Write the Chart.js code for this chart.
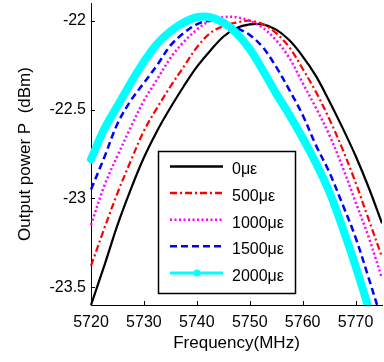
<!DOCTYPE html>
<html>
<head>
<meta charset="utf-8">
<script src="https://cdn.jsdelivr.net/npm/chart.js@4.4.0/dist/chart.umd.min.js"></script>
<style>
  html, body { margin: 0; padding: 0; background: #fff; }
</style>
</head>
<body>
<canvas id="myChart" width="384" height="362"></canvas>
<script>
// Datos
const freqs = [5720, 5722.5, 5725, 5727.5, 5730, 5732.5, 5735, 5737.5, 5740, 5742.5, 5745, 5747.5,
  5750, 5752.5, 5755, 5757.5, 5760, 5762.5, 5765, 5767.5, 5770, 5772.5, 5775];
const p0 = [-23.60, -23.38, -23.15, -22.95, -22.77, -22.62, -22.49, -22.37, -22.26, -22.17, -22.09, -22.04,
  -22.02, -22.02, -22.05, -22.11, -22.20, -22.31, -22.45, -22.60, -22.76, -22.94, -23.14];
const p500 = [-23.38, -23.17, -22.97, -22.79, -22.62, -22.49, -22.37, -22.26, -22.15, -22.07, -22.03, -22.01,
  -22.00, -22.02, -22.07, -22.15, -22.27, -22.40, -22.55, -22.72, -22.91, -23.12, -23.33];
const p1000 = [-23.15, -22.93, -22.76, -22.60, -22.45, -22.33, -22.21, -22.12, -22.05, -22.00, -21.98, -21.98,
  -22.00, -22.04, -22.11, -22.21, -22.35, -22.49, -22.64, -22.82, -23.02, -23.22, -23.45];
const p1500 = [-22.95, -22.77, -22.58, -22.45, -22.35, -22.25, -22.14, -22.07, -22.02, -22.00, -22.01, -22.04,
  -22.08, -22.15, -22.26, -22.39, -22.53, -22.70, -22.85, -23.03, -23.22, -23.45, -23.69];
const p2000 = [-22.78, -22.61, -22.48, -22.35, -22.23, -22.13, -22.06, -22.01, -21.98, -21.98, -22.01, -22.07,
  -22.16, -22.28, -22.41, -22.53, -22.66, -22.80, -22.96, -23.16, -23.38, -23.62, null];
const seriesLabels = ["0\u03bc\u03b5", "500\u03bc\u03b5", "1000\u03bc\u03b5", "1500\u03bc\u03b5", "2000\u03bc\u03b5"];
const xTicks = [5720, 5730, 5740, 5750, 5760, 5770];
const yTicks = [-22, -22.5, -23, -23.5];

const FONT = "'Liberation Sans', Arial, sans-serif";
const toXY = (arr) => freqs.map((f, i) => ({ x: f, y: arr[i] }));

// Ticks hacia adentro + leyenda dentro del area
const extras = {
  id: "extras",
  afterDatasetsDraw(chart) {
    const { ctx, chartArea: a, scales: { x, y } } = chart;
    ctx.save();
    ctx.strokeStyle = "#000";
    ctx.lineWidth = 1;
    ctx.setLineDash([]);
    ctx.beginPath();
    for (const v of yTicks) {
      const py = Math.round(y.getPixelForValue(v)) + 0.5;
      ctx.moveTo(a.left, py);
      ctx.lineTo(a.left + 4, py);
    }
    for (const v of xTicks) {
      const px = Math.round(x.getPixelForValue(v)) + 0.5;
      ctx.moveTo(px, a.bottom);
      ctx.lineTo(px, a.bottom - 4);
    }
    ctx.stroke();

    // leyenda
    const bx = 158.5, by = 151.5, bw = 137, bh = 142;
    ctx.fillStyle = "#fff";
    ctx.fillRect(bx, by, bw, bh);
    ctx.strokeStyle = "#000";
    ctx.lineWidth = 1.5;
    ctx.strokeRect(bx, by, bw, bh);
    ctx.font = "16px " + FONT;
    ctx.textBaseline = "middle";
    ctx.textAlign = "left";
    chart.data.datasets.forEach((ds, i) => {
      const ly = 166.5 + i * 26.6;
      ctx.strokeStyle = ds.borderColor;
      ctx.lineWidth = i === 4 ? 3 : 2.5;
      ctx.setLineDash(ds.borderDash || []);
      ctx.beginPath();
      ctx.moveTo(170, ly);
      ctx.lineTo(223, ly);
      ctx.stroke();
      ctx.setLineDash([]);
      if (i === 4) {
        ctx.fillStyle = ds.borderColor;
        ctx.beginPath();
        ctx.arc(197, ly, 3.5, 0, Math.PI * 2);
        ctx.fill();
      }
      ctx.fillStyle = "#000";
      ctx.fillText(ds.label, 232, ly + 3.5);
    });
    ctx.restore();
  },
};

const lineBase = { pointRadius: 0, tension: 0.35, fill: false, clip: { left: 5, top: 0, right: 0, bottom: 0 } };

new Chart(document.getElementById("myChart").getContext("2d"), {
  type: "line",
  data: {
    datasets: [
      { ...lineBase, label: seriesLabels[4], data: toXY(p2000), borderColor: "#00ffff", borderWidth: 8, borderCapStyle: "round", order: 0 },
      { ...lineBase, label: seriesLabels[3], data: toXY(p1500), borderColor: "#0000ff", borderWidth: 2.5, borderDash: [7, 4], order: 1 },
      { ...lineBase, label: seriesLabels[2], data: toXY(p1000), borderColor: "#ff00ff", borderWidth: 2.5, borderDash: [2, 2.5], order: 2 },
      { ...lineBase, label: seriesLabels[1], data: toXY(p500), borderColor: "#ff0000", borderWidth: 2.2, borderDash: [7, 3, 2, 3], order: 3 },
      { ...lineBase, label: seriesLabels[0], data: toXY(p0), borderColor: "#000000", borderWidth: 2.2, order: 4 },
    ].reverse(),
  },
  options: {
    responsive: false,
    animation: false,
    layout: { padding: { left: 0, top: 3, right: 2, bottom: 0 } },
    plugins: { legend: { display: false }, tooltip: { enabled: false } },
    scales: {
      x: {
        type: "linear",
        min: 5720,
        max: 5775,
        afterBuildTicks: (s) => { s.ticks = xTicks.map((v) => ({ value: v })); },
        afterFit: (s) => { s.height = 57; s.paddingLeft = 0; s.paddingRight = 0; },
        grid: { display: false, drawTicks: false },
        border: { display: true, color: "#000", width: 1 },
        ticks: { color: "#000", font: { family: FONT, size: 16 }, padding: 8, maxRotation: 0, callback: (v) => String(v) },
        title: { display: true, text: "Frequency(MHz)", color: "#000", font: { family: FONT, size: 17 }, padding: { top: 0, bottom: 8 } },
      },
      y: {
        min: -23.6,
        max: -21.9,
        afterBuildTicks: (s) => { s.ticks = yTicks.map((v) => ({ value: v })); },
        afterFit: (s) => { s.width = 91; s.paddingTop = 0; s.paddingBottom = 0; },
        grid: { display: false, drawTicks: false },
        border: { display: true, color: "#000", width: 1 },
        ticks: { color: "#000", font: { family: FONT, size: 16 }, padding: 5, callback: (v) => String(v) },
        title: { display: true, text: "Output power P  (dBm)", color: "#000", font: { family: FONT, size: 17 }, padding: { top: 15, bottom: 0 } },
      },
    },
  },
  plugins: [extras],
});
</script>
</body>
</html>
